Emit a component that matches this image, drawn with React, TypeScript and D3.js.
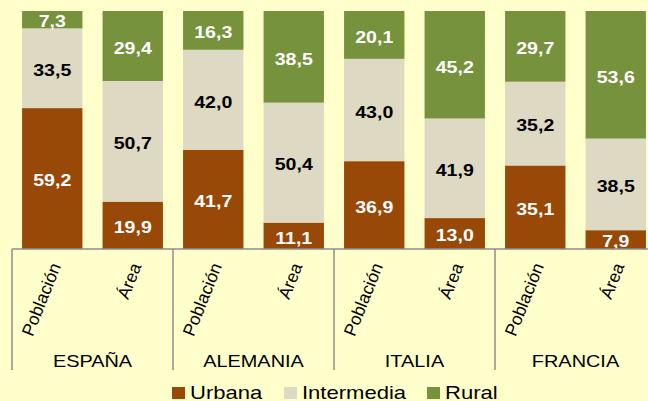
import React from "react";
import * as d3 from "d3";

const countries = ["ESPAÑA", "ALEMANIA", "ITALIA", "FRANCIA"];
const measures = ["Población", "Área"];
const seriesNames = ["Urbana", "Intermedia", "Rural"];
const seriesColors = ["#984807", "#DDD9C3", "#76923C"];
const labelColors = ["#FFFFFF", "#000000", "#FFFFFF"];
// order: ESPAÑA Población, ESPAÑA Área, ALEMANIA Población, ...
const urbana = [59.2, 19.9, 41.7, 11.1, 36.9, 13.0, 35.1, 7.9];
const intermedia = [33.5, 50.7, 42.0, 50.4, 43.0, 41.9, 35.2, 38.5];
const rural = [7.3, 29.4, 16.3, 38.5, 20.1, 45.2, 29.7, 53.6];

const W = 648;
const H = 401;

function SText(props: any) {
  const { x, y, sx = 1.15, children, ...rest } = props;
  return (
    <text transform={`translate(${x},${y}) scale(${sx},1)`} {...rest}>
      {children}
    </text>
  );
}

export default function App() {
  const bars = countries.flatMap((c) => measures.map((m) => `${c}|${m}`));
  const rows = bars.map((key, i) => {
    const total = urbana[i] + intermedia[i] + rural[i];
    return {
      key,
      Urbana: (urbana[i] / total) * 100,
      Intermedia: (intermedia[i] / total) * 100,
      Rural: (rural[i] / total) * 100,
      raw: [urbana[i], intermedia[i], rural[i]],
    };
  });
  const stack = d3.stack<any>().keys(seriesNames)(rows);

  const plotLeft = 12;
  const groupW = 161;
  const plotRight = plotLeft + groupW * countries.length;
  const yTop = 11;
  const yBottom = 249;

  const x = d3.scaleBand<string>().domain(bars).range([plotLeft, plotRight]).paddingInner(0.25).paddingOuter(0.125);
  const xc = d3.scaleBand<string>().domain(countries).range([plotLeft, plotRight]);
  const y = d3.scaleLinear().domain([0, 100]).range([yBottom, yTop]);
  const fmt = (v: number) => d3.format(".1f")(v).replace(".", ",");

  const font = "'Liberation Sans', Arial, sans-serif";

  const legendItems = [
    { name: "Urbana", x: 172 },
    { name: "Intermedia", x: 284 },
    { name: "Rural", x: 427 },
  ];

  return (
    <svg width={W} height={H} style={{ position: "fixed", left: 0, top: 0 }} fontFamily={font}>
      <rect x={0} y={0} width={W} height={H} fill="#FFFFCC" />
      {stack.map((s, si) => (
        <g key={s.key}>
          {s.map((d, i) => {
            const y0 = y(d[0]);
            const y1 = y(d[1]);
            const bx = x(bars[i])!;
            return (
              <g key={i}>
                <rect x={bx} y={y1} width={x.bandwidth()} height={y0 - y1} fill={seriesColors[si]} />
                <SText
                  x={bx + x.bandwidth() / 2}
                  y={(y0 + y1) / 2 + 7.8}
                  textAnchor="middle"
                  fontSize={17}
                  fontWeight="bold"
                  fill={labelColors[si]}
                >
                  {fmt(rows[i].raw[si])}
                </SText>
              </g>
            );
          })}
        </g>
      ))}
      <line x1={plotLeft} x2={plotRight} y1={yBottom} y2={yBottom} stroke="#8C8C8C" strokeWidth={1.5} />
      {d3.range(countries.length + 1).map((i) => {
        const lx = plotLeft + i * groupW;
        return <line key={i} x1={lx} x2={lx} y1={yBottom} y2={370} stroke="#8C8C8C" strokeWidth={1.5} />;
      })}
      {bars.map((b, i) => {
        const cx = x(b)! + x.bandwidth() / 2 + 9;
        const cy = 266;
        return (
          <text key={b} x={cx} y={cy} textAnchor="end" fontSize={17.5} fill="#000" transform={`rotate(-68 ${cx} ${cy})`}>
            {measures[i % 2]}
          </text>
        );
      })}
      {countries.map((c) => (
        <SText key={c} x={xc(c)! + xc.bandwidth() / 2} y={367} sx={1.17} textAnchor="middle" fontSize={17} fill="#000">
          {c}
        </SText>
      ))}
      {legendItems.map((l, i) => (
        <g key={l.name}>
          <rect x={l.x} y={387} width={13} height={12} fill={seriesColors[i]} />
          <SText x={l.x + 18} y={398.5} sx={1.16} fontSize={19} fill="#000">
            {l.name}
          </SText>
        </g>
      ))}
    </svg>
  );
}
